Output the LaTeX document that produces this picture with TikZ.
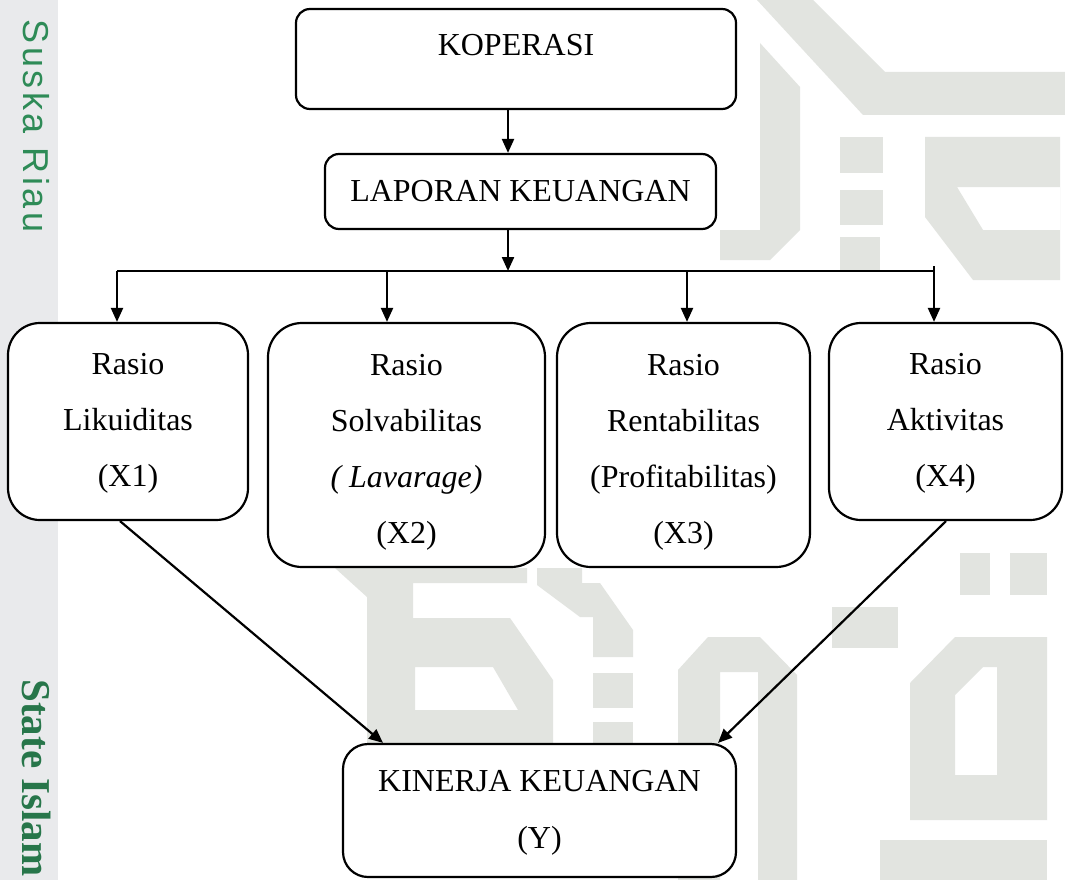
\documentclass[tikz,border=0pt]{standalone}
\usepackage{fontspec}
\setmainfont{Liberation Serif}
\newfontfamily\wmsans[LetterSpace=10]{Liberation Sans}
\usetikzlibrary{arrows.meta}
\definecolor{wm}{HTML}{E2E4E0}
\definecolor{strip}{HTML}{E9EAEC}
\definecolor{wmgreen}{HTML}{2E8B57}
\begin{document}
\begin{tikzpicture}[x=1pt,y=-1pt,
  rbox/.style={draw, line width=2.2pt, fill=white, rounded corners=#1, inner sep=0pt,
    align=center, font=\fontsize{32}{56}\selectfont},
  conn/.style={line width=2.2pt},
  arr/.style={line width=2.2pt, -{Triangle[length=14pt,width=12pt]}},
  wmfill/.style={fill=wm}]
\useasboundingbox (0,0) rectangle (1065,880);
\fill[white] (0,0) rectangle (1065,880);
% watermark
\fill[strip] (0,0) rectangle (58,880);
\node[rotate=-90, text=wmgreen, font=\wmsans\fontsize{36}{36}\selectfont] (wmA) at (36,126) {Suska Riau};
\node[rotate=-90, text=wmgreen!85!black, font=\bfseries\fontsize{41}{41}\selectfont] (wmB) at (37,778) {State Islam};
\fill[wmfill] (760,43) -- (800,87) -- (800,230) -- (770,260) -- (720,260) -- (720,230) -- (760,230) -- cycle;
\fill[wmfill] (757,0) -- (813,0) -- (885,72) -- (1065,72) -- (1065,115) -- (863,115) -- cycle;
\fill[wmfill] (840,137) rectangle (883,173);
\fill[wmfill] (840,190) rectangle (883,225);
\fill[wmfill] (840,237) rectangle (880,272);
\fill[wmfill, even odd rule] (925,137) -- (1060,137) -- (1060,280) -- (973,280) -- (925,217) -- cycle
  (957,187) -- (1060,187) -- (1060,230) -- (983,230) -- cycle;
\fill[wmfill] (960,553) rectangle (990,595);
\fill[wmfill] (1010,553) rectangle (1047,595);
\fill[wmfill] (832,607) rectangle (898,648);
\fill[wmfill, even odd rule] (678,670) -- (708,637) -- (760,637) -- (797,675) -- (797,880) -- (678,880) -- cycle
  (720,672) rectangle (758,880);
\fill[wmfill, even odd rule] (910,683) -- (955,637) -- (1047,637) -- (1047,820) -- (910,820) -- cycle
  (955,695) -- (983,667) -- (997,667) -- (997,775) -- (955,775) -- cycle;
\fill[wmfill] (880,840) rectangle (1047,880);
\fill[wmfill] (335,568) -- (527,568) -- (527,583) -- (413,583) -- (413,744) -- (367,744) -- (367,597) -- cycle;
\fill[wmfill, even odd rule] (413,618) -- (510,618) -- (553,680) -- (553,744) -- (413,744) -- cycle
  (415,667) -- (493,667) -- (518,710) -- (415,710) -- cycle;
\fill[wmfill] (537,568) -- (582,568) -- (582,583) -- (600,583) -- (633,630) -- (633,657) -- (593,657) -- (593,617) -- (580,617) -- (537,585) -- cycle;
\fill[wmfill] (593,673) rectangle (633,708);
\fill[wmfill] (593,722) rectangle (633,744);
% boxes
\node[rbox=14pt, minimum width=440pt, minimum height=100pt, text depth=28pt] (kop) at (516,59) {KOPERASI};
\node[rbox=14pt, minimum width=391pt, minimum height=75pt] (lap) at (520.5,191.5) {\rule{0pt}{20pt}LAPORAN KEUANGAN};
\node[rbox=32pt, minimum width=240pt, minimum height=197pt] (b1) at (128,421.5) {\rule{0pt}{24pt}Rasio\\Likuiditas\\(X1)};
\node[rbox=34pt, minimum width=277pt, minimum height=244pt] (b2) at (406.5,445) {\rule{0pt}{36pt}Rasio\\Solvabilitas\\\textit{( Lavarage)}\\(X2)};
\node[rbox=34pt, minimum width=253pt, minimum height=244pt] (b3) at (683.5,445) {\rule{0pt}{36pt}Rasio\\Rentabilitas\\(Profitabilitas)\\(X3)};
\node[rbox=32pt, minimum width=233pt, minimum height=197pt] (b4) at (945.5,421.5) {\rule{0pt}{24pt}Rasio\\Aktivitas\\(X4)};
\node[rbox=25pt, minimum width=393pt, minimum height=133pt, font=\fontsize{32}{57}\selectfont] (yb) at (539.5,810.5) {\rule{0pt}{26pt}KINERJA KEUANGAN\\(Y)};
% connectors
\coordinate (c0) at (508,271);
\coordinate (t1) at (117,271);
\coordinate (t2) at (387,271);
\coordinate (t3) at (687,271);
\coordinate (t4) at (934,271);
\coordinate (d1) at (120,520);
\coordinate (e1) at (383,744);
\coordinate (d4) at (946,520);
\coordinate (e4) at (718,744);
\draw[arr] (kop.south -| c0) -- (lap.north -| c0);
\draw[arr] (lap.south -| c0) -- (c0);
\draw[conn] (t1) -- (t4) -- ++(0,-5);
\draw[arr] (t1) -- (b1.north -| t1);
\draw[arr] (t2) -- (b2.north -| t2);
\draw[arr] (t3) -- (b3.north -| t3);
\draw[arr] (t4) -- (b4.north -| t4);
\draw[arr] (b1.south -| d1) -- (yb.north -| e1);
\draw[arr] (b4.south -| d4) -- (yb.north -| e4);
\end{tikzpicture}
\end{document}
